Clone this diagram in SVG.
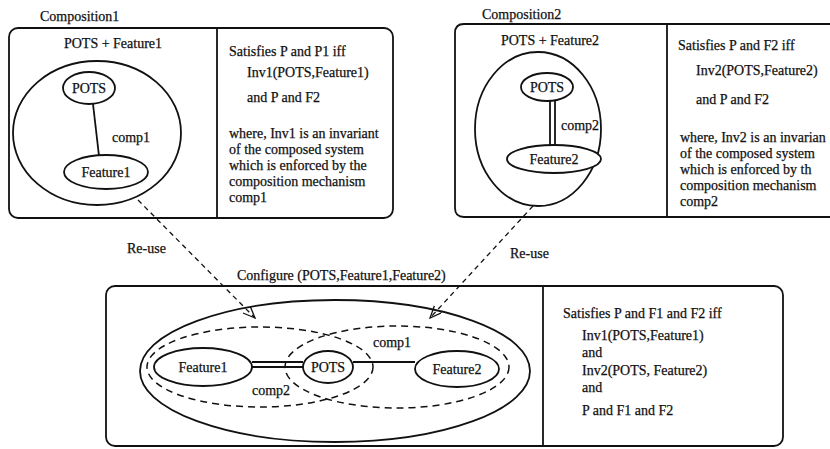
<svg xmlns="http://www.w3.org/2000/svg" width="830" height="449" viewBox="0 0 830 449">
<defs>
<style>
text{font-family:"Liberation Serif","Times New Roman",serif;font-size:14px;fill:#111;stroke:#111;stroke-width:0.25}
.c{text-anchor:middle}
.s{fill:none;stroke:#111;stroke-width:1.8}
.d{fill:none;stroke:#111;stroke-width:1.5;stroke-dasharray:7 5}
.a{fill:none;stroke:#111;stroke-width:1.3;stroke-dasharray:5 4}
.n{fill:#fff;stroke:#111;stroke-width:1.8}
</style>
<marker id="arr" markerUnits="userSpaceOnUse" markerWidth="14" markerHeight="12" refX="12" refY="5" orient="auto">
<path d="M0,0 L12,5 L0,10" fill="none" stroke="#111" stroke-width="1.3"/>
</marker>
</defs>
<rect width="830" height="449" fill="#fff"/>

<g id="composition1">
<text x="40" y="21">Composition1</text>
<rect class="s" x="9" y="28" width="384" height="190" rx="9"/>
<line class="s" x1="217" y1="28" x2="217" y2="218"/>
<text class="c" x="113" y="48">POTS + Feature1</text>
<ellipse class="s" cx="97" cy="133" rx="84" ry="72"/>
<text x="229" y="56">Satisfies P and P1 iff</text>
<text x="247" y="77">Inv1(POTS,Feature1)</text>
<text x="247" y="102">and P and F2</text>
<text x="229" y="138">where, Inv1 is an invariant</text>
<text x="229" y="154">of the composed system</text>
<text x="229" y="170">which is enforced by the</text>
<text x="229" y="186">composition mechanism</text>
<text x="229" y="202">comp1</text>
</g>

<g id="composition2">
<text x="482" y="19">Composition2</text>
<path class="s" d="M840,24 H464 Q455,24 455,33 V208 Q455,217 464,217 H840"/>
<line class="s" x1="667" y1="24" x2="667" y2="217"/>
<text class="c" x="550" y="45">POTS + Feature2</text>
<ellipse class="s" cx="538" cy="129" rx="63" ry="77"/>
<text x="678" y="50">Satisfies P and F2 iff</text>
<text x="696" y="75">Inv2(POTS,Feature2)</text>
<text x="696" y="104">and P and F2</text>
<text x="680" y="142">where, Inv2 is an invarian</text>
<text x="680" y="158">of the composed system</text>
<text x="680" y="174">which is enforced by th</text>
<text x="680" y="190">composition mechanism</text>
<text x="680" y="206">comp2</text>
</g>

<g id="configure">
<text x="237" y="280">Configure (POTS,Feature1,Feature2)</text>
<rect class="s" x="106" y="286" width="677" height="160" rx="9"/>
<line class="s" x1="543" y1="286" x2="543" y2="446"/>
<ellipse class="s" cx="335" cy="371" rx="195" ry="71"/>
<ellipse class="d" cx="260" cy="367" rx="113" ry="40"/>
<ellipse class="d" cx="397" cy="367" rx="112" ry="41"/>
<text x="563" y="318">Satisfies P and F1 and F2 iff</text>
<text x="582" y="340">Inv1(POTS,Feature1)</text>
<text x="582" y="357">and</text>
<text x="582" y="375">Inv2(POTS, Feature2)</text>
<text x="582" y="392">and</text>
<text x="582" y="415">P and F1 and F2</text>
</g>

<g id="connectors">
<line class="s" x1="93" y1="104" x2="99" y2="156"/>
<line class="s" x1="550" y1="101" x2="550" y2="146"/>
<line class="s" x1="555" y1="101" x2="555" y2="146"/>
<line class="s" x1="252" y1="362" x2="303" y2="362"/>
<line class="s" x1="252" y1="367" x2="303" y2="367"/>
<line class="s" x1="353" y1="362" x2="415" y2="362"/>
<path class="a" d="M138,200 L255,318" marker-end="url(#arr)"/>
<path class="a" d="M533,206 L430,318" marker-end="url(#arr)"/>
<text x="112" y="142">comp1</text>
<text x="561" y="130">comp2</text>
<text x="252" y="395">comp2</text>
<text x="373" y="347">comp1</text>
<text x="127" y="253">Re-use</text>
<text x="510" y="258">Re-use</text>
</g>

<g id="pots1"><ellipse class="n" cx="89" cy="88" rx="26" ry="16"/><text class="c" x="89" y="93">POTS</text></g>
<g id="feature1a"><ellipse class="n" cx="106" cy="172" rx="42" ry="17"/><text class="c" x="106" y="177">Feature1</text></g>
<g id="pots2"><ellipse class="n" cx="547" cy="87" rx="26" ry="14"/><text class="c" x="547" y="92">POTS</text></g>
<g id="feature2a"><ellipse class="n" cx="554" cy="159" rx="47" ry="14"/><text class="c" x="554" y="164">Feature2</text></g>
<g id="feature1b"><ellipse class="n" cx="203" cy="367" rx="49" ry="19"/><text class="c" x="203" y="372">Feature1</text></g>
<g id="pots3"><ellipse class="n" cx="328" cy="367" rx="25" ry="16"/><text class="c" x="328" y="372">POTS</text></g>
<g id="feature2b"><ellipse class="n" cx="457" cy="369" rx="42" ry="18"/><text class="c" x="457" y="374">Feature2</text></g>
</svg>
